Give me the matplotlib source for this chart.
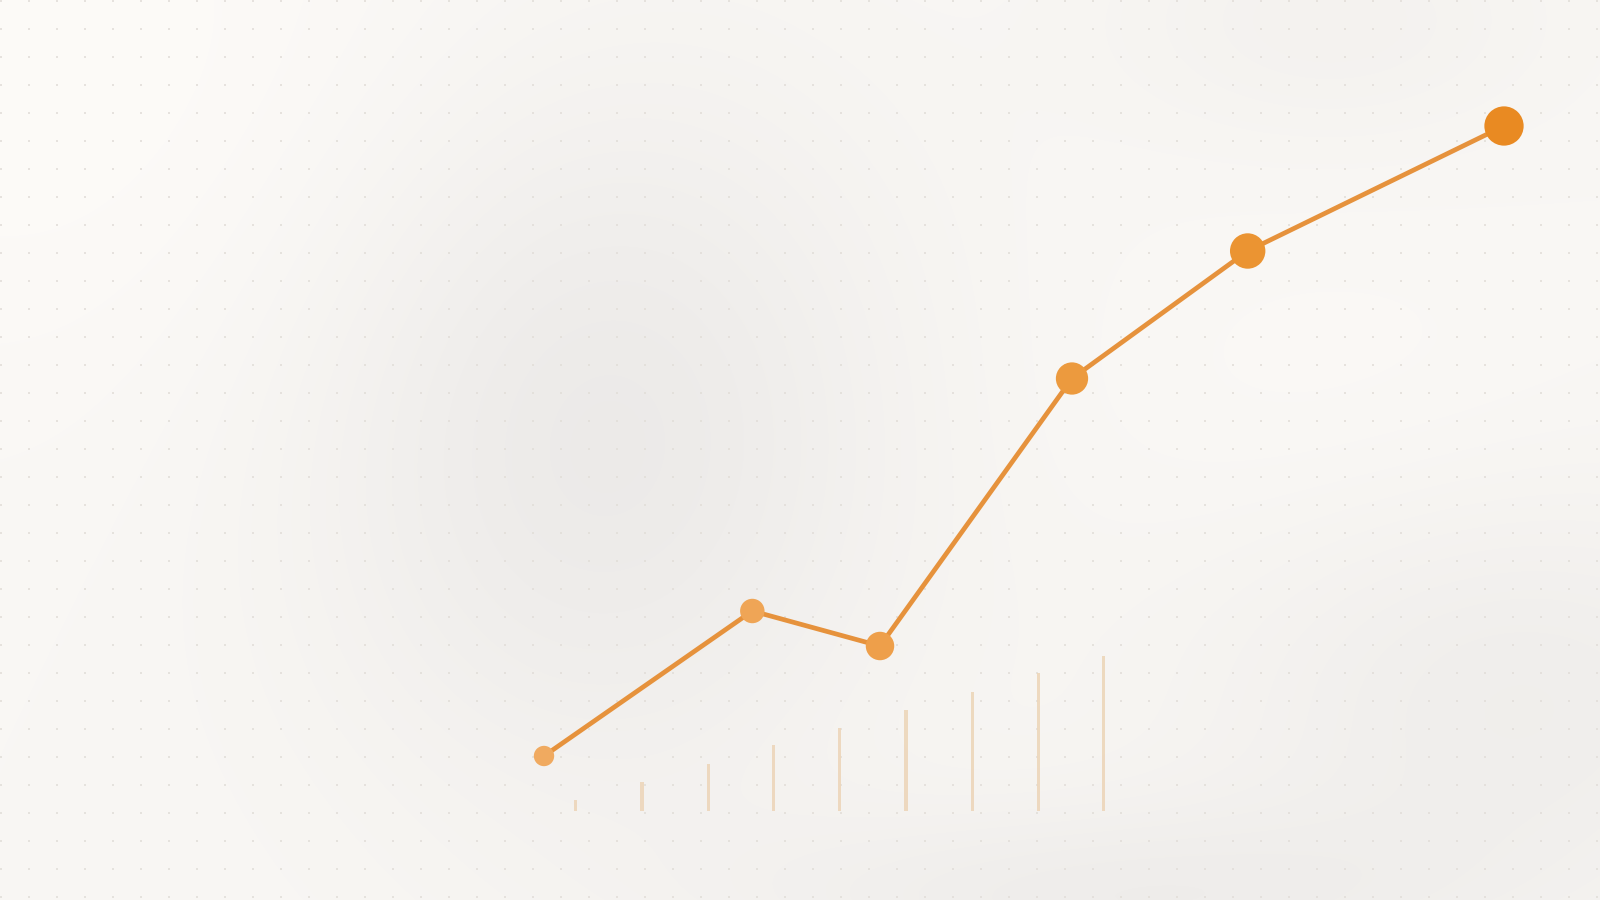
import matplotlib
matplotlib.use("Agg")
import matplotlib.pyplot as plt
import numpy as np

# line series (x in % of span, y in value units)
LINE_X = [0.0, 21.7, 35.0, 55.0, 73.3, 100.0]
LINE_Y = [11.0, 40.0, 33.0, 86.5, 112.0, 137.0]

# faint bar series underneath
BAR_X = [3.3, 10.2, 17.1, 23.9, 30.8, 37.7, 44.6, 51.5, 58.3]
BAR_Y = [2.2, 5.8, 9.4, 13.2, 16.6, 20.2, 23.8, 27.6, 31.0]

MARKER_SIZES = [215, 310, 420, 540, 650, 800]
MARKER_COLORS = ["#F0AA60", "#EFA556", "#EE9F4A", "#EC9A3E", "#EB9432", "#E98A22"]
LINE_COLOR = "#E6923C"
BAR_COLOR = "#EDD6BA"

W, H = 1600, 900


def _background() -> np.ndarray:
    yy, xx = np.mgrid[0:H, 0:W].astype(float)
    base = np.array([249.0, 247.0, 244.0])
    img = np.ones((H, W, 3)) * base

    def blob(cx, cy, sx, sy, amp):
        return amp * np.exp(-(((xx - cx) / sx) ** 2 + ((yy - cy) / sy) ** 2) / 2)

    dark = (
        blob(600, 430, 210, 260, 13.0)
        + blob(1520, 700, 230, 160, 9.0)
        + blob(1100, 900, 260, 70, 9.0)
        + blob(1330, 20, 160, 90, 5.0)
    )
    light = blob(100, 80, 350, 250, 4.0) + blob(1350, 400, 200, 120, 2.0)
    img = img - dark[..., None] + light[..., None]
    img[..., 2] += dark * 0.1
    return np.clip(img, 0, 255) / 255.0


fig = plt.figure(figsize=(16, 9), dpi=100)

bg = fig.add_axes([0, 0, 1, 1])
bg.imshow(_background(), extent=(0, W, H, 0), aspect="auto", interpolation="bilinear")
gx, gy = np.meshgrid(np.arange(1, W, 28), np.arange(1, H, 28))
bg.scatter(gx.ravel(), gy.ravel(), s=2.2, color="#E2DED9", edgecolors="none")
bg.set_xlim(0, W)
bg.set_ylim(H, 0)
bg.axis("off")

ax = fig.add_axes([544 / W, 89 / H, 960 / W, 700 / H])
ax.set_xlim(0, 100)
ax.set_ylim(0, 140)
ax.patch.set_alpha(0)
ax.axis("off")

ax.bar(BAR_X, BAR_Y, width=0.34, color=BAR_COLOR, alpha=0.9, zorder=1)
ax.plot(LINE_X, LINE_Y, color=LINE_COLOR, linewidth=3.4, solid_capstyle="round", zorder=2, clip_on=False)
ax.scatter(LINE_X, LINE_Y, s=MARKER_SIZES, c=MARKER_COLORS, edgecolors="none", zorder=3, clip_on=False)

fig.savefig("out.png", dpi=100)
plt.close(fig)
